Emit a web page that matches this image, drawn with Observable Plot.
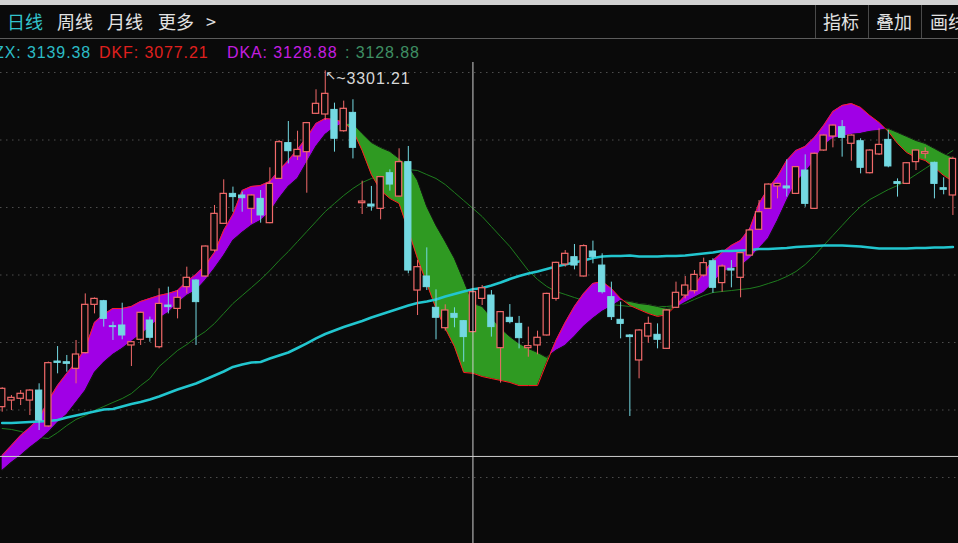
<!DOCTYPE html>
<html>
<head>
<meta charset="utf-8">
<script src="https://cdn.jsdelivr.net/npm/d3@7"></script>
<script src="https://cdn.jsdelivr.net/npm/@observablehq/plot@0.6"></script>
<style>
  html, body { margin: 0; padding: 0; background: #0a0a0a; overflow: hidden; }
  #head { position: relative; width: 958px; height: 62px; background: #0a0a0a; overflow: hidden; }
  #head .t { position: absolute; white-space: nowrap; }
  .cjk { font-family: "Noto Sans CJK SC", sans-serif; font-size: 18px; line-height: 18px; color: #e2e2e2; top: 12px; }
  .leg { font-family: "Liberation Sans", Arial, sans-serif; font-size: 16px; line-height: 16px; letter-spacing: 0.9px; top: 45px; }
  #chart svg { display: block; }
</style>
</head>
<body>
<div id="head">
  <div style="position:absolute;left:0;top:0;width:958px;height:5px;background:#d2d2d2"></div>
  <div style="position:absolute;left:0;top:38px;width:958px;height:1px;background:#5c5c5c"></div>
  <div style="position:absolute;left:815px;top:5px;width:1px;height:33px;background:#4a4a4a"></div>
  <div style="position:absolute;left:868px;top:5px;width:1px;height:33px;background:#4a4a4a"></div>
  <div style="position:absolute;left:921px;top:5px;width:1px;height:33px;background:#4a4a4a"></div>
  <span class="t cjk" style="left:7px;color:#33c3cc">日线</span>
  <span class="t cjk" style="left:57px">周线</span>
  <span class="t cjk" style="left:107px">月线</span>
  <span class="t cjk" style="left:158px">更多</span>
  <span class="t cjk" style="left:206px">&gt;</span>
  <span class="t cjk" style="left:823px">指标</span>
  <span class="t cjk" style="left:876px">叠加</span>
  <span class="t cjk" style="left:930px">画线</span>
  <span class="t leg" id="lzx" style="left:-6px;color:#2cbcc6"></span>
  <span class="t leg" id="ldkf" style="left:99px;color:#e0201e"></span>
  <span class="t leg" id="ldka" style="left:227px;color:#c41ee0"></span>
  <span class="t leg" id="lval" style="left:345px;color:#3f8f63"></span>
</div>
<div id="chart"></div>
<script>
// ---- data ----
const open = [3052.1,3057.0,3058.3,3057.0,3064.4,3037.8,3085.9,3085.4,3080.5,3092.1,
3127.9,3130.6,3112.1,3112.6,3097.8,3102.0,3116.3,3096.5,3127.4,3124.9,
3141.0,3145.9,3148.9,3168.1,3187.9,3210.1,3208.9,3199.0,3206.4,3188.4,
3221.2,3247.7,3237.8,3241.0,3269.4,3268.9,3272.3,3256.5,3270.1,3203.2,
3202.2,3199.0,3225.4,3208.1,3233.6,3138.5,3148.9,3125.7,3110.6,3121.2,
3115.8,3107.7,3132.3,3134.8,3095.8,3118.3,3113.8,3095.8,3097.8,3105.2,
3132.3,3157.8,3163.2,3148.9,3167.4,3157.0,3133.6,3116.8,3105.2,3086.7,
3104.4,3105.7,3095.3,3125.7,3134.8,3138.0,3149.6,3160.2,3144.0,3154.6,
3147.9,3164.4,3183.5,3199.0,3215.6,3215.6,3210.1,3227.4,3199.0,3242.2,
3252.6,3259.5,3247.2,3249.1,3225.4,3239.3,3250.1,3218.8,3217.5,3233.6,
3239.8,3233.1,3214.3,3208.9];
const high = [3066.5,3060.7,3064.4,3065.0,3069.4,3085.5,3097.0,3090.4,3101.5,3136.0,
3133.0,3131.2,3115.1,3129.1,3100.8,3122.5,3118.8,3139.8,3141.0,3138.5,
3155.8,3146.5,3171.5,3201.5,3220.5,3215.1,3211.4,3209.5,3212.6,3229.4,
3249.6,3263.7,3256.5,3263.0,3287.2,3301.21,3277.3,3278.8,3279.8,3219.5,
3215.6,3223.0,3227.9,3243.5,3245.2,3160.7,3170.1,3139.0,3127.9,3125.7,
3116.3,3137.8,3142.2,3138.5,3123.0,3128.1,3119.3,3111.4,3108.4,3136.5,
3159.5,3168.1,3172.6,3172.3,3175.1,3165.7,3144.7,3129.9,3105.9,3109.5,
3118.8,3113.8,3124.2,3144.7,3148.9,3153.3,3162.5,3162.0,3157.5,3160.7,
3166.7,3184.2,3205.2,3217.5,3218.0,3235.3,3230.4,3239.0,3240.3,3253.8,
3261.2,3264.4,3253.8,3250.9,3242.7,3258.3,3257.0,3221.2,3233.3,3242.7,
3244.2,3233.6,3222.0,3237.3];
const low = [3048.4,3049.6,3053.3,3045.9,3034.8,3037.0,3076.8,3078.0,3069.4,3091.5,
3121.2,3111.4,3101.5,3102.0,3082.2,3097.8,3100.2,3095.3,3121.2,3117.5,
3136.0,3097.8,3148.3,3166.9,3187.5,3196.5,3196.5,3187.9,3188.4,3188.0,
3220.8,3232.3,3234.8,3210.6,3269.0,3264.4,3241.0,3255.8,3236.0,3194.8,
3197.3,3190.9,3212.1,3207.7,3150.9,3120.0,3138.5,3102.0,3108.4,3110.9,
3085.4,3107.2,3127.4,3104.0,3069.9,3113.8,3095.3,3089.1,3090.9,3104.8,
3130.6,3155.8,3153.8,3148.5,3158.3,3136.0,3116.3,3102.7,3045.2,3073.1,
3099.5,3095.3,3094.8,3125.2,3132.3,3136.0,3148.4,3136.5,3137.3,3140.5,
3133.1,3164.0,3183.0,3198.5,3206.4,3207.7,3209.6,3200.2,3198.5,3241.7,
3244.2,3237.3,3234.3,3224.9,3224.9,3238.5,3229.4,3207.7,3217.0,3227.4,
3236.0,3206.4,3209.4,3194.1];
const close = [3065.7,3059.0,3062.0,3064.4,3042.2,3084.7,3084.9,3084.2,3091.1,3127.9,
3132.3,3117.5,3111.4,3105.2,3100.2,3122.0,3103.5,3128.6,3126.2,3133.1,
3147.9,3129.9,3171.1,3195.3,3210.1,3207.7,3206.9,3208.9,3194.1,3217.5,
3248.4,3241.7,3242.7,3262.5,3276.8,3284.2,3250.9,3273.1,3244.2,3204.4,
3200.7,3222.5,3217.0,3233.6,3153.3,3155.8,3141.0,3118.3,3123.7,3118.3,
3104.0,3137.3,3140.2,3111.4,3122.5,3115.1,3103.2,3097.3,3103.5,3136.0,
3159.0,3165.7,3157.0,3171.4,3163.2,3137.3,3118.8,3113.8,3104.0,3108.9,
3113.8,3102.0,3123.7,3136.8,3142.2,3150.1,3158.8,3140.5,3156.3,3153.3,
3166.2,3183.0,3196.5,3217.0,3217.5,3214.1,3229.9,3202.7,3239.8,3253.3,
3260.7,3251.6,3253.3,3229.4,3242.2,3246.4,3230.4,3217.5,3232.8,3242.2,
3241.0,3217.5,3213.1,3236.0];
// ZX (thick cyan line)
const zx = [3040.4,3040.4,3040.7,3041.1,3041.5,3041.9,3042.6,3044.4,3045.9,3047.4,
3048.9,3050.4,3050.7,3052.6,3054.5,3055.9,3057.8,3060.0,3062.6,3065.2,
3067.4,3069.6,3072.6,3075.6,3078.5,3081.9,3083.7,3085.2,3085.6,3088.1,
3090.4,3092.6,3095.9,3099.3,3103.0,3106.3,3108.9,3111.5,3113.7,3115.9,
3118.5,3120.7,3123.0,3125.2,3127.4,3129.3,3130.4,3131.9,3134.1,3135.9,
3137.8,3139.38,3140.4,3142.2,3144.4,3147.0,3149.3,3151.1,3152.6,3154.4,
3156.3,3157.8,3159.3,3160.7,3162.6,3163.7,3164.1,3164.1,3164.4,3163.7,
3163.7,3163.7,3164.1,3164.1,3164.4,3165.2,3165.9,3166.7,3167.8,3167.8,
3168.1,3168.5,3169.3,3169.3,3169.6,3170.0,3170.7,3171.1,3171.5,3171.9,
3171.9,3171.9,3171.5,3171.1,3170.4,3169.6,3169.6,3169.6,3169.6,3170.0,
3170.0,3170.4,3170.4,3170.7];
// thin green average
const ma = [3036.3,3035.6,3034.1,3031.9,3029.6,3028.9,3033.3,3038.5,3043.0,3045.9,
3049.6,3052.6,3055.6,3058.5,3062.2,3068.1,3073.3,3082.2,3088.1,3094.1,
3098.5,3103.7,3108.1,3114.1,3121.5,3128.9,3134.8,3140.7,3146.7,3153.3,
3160.7,3167.4,3174.8,3182.2,3189.6,3197.0,3203.0,3208.9,3214.1,3218.5,
3221.5,3223.7,3225.9,3227.4,3228.1,3227.4,3224.4,3221.5,3217.0,3211.1,
3205.2,3199.3,3193.3,3185.9,3178.5,3171.1,3162.2,3153.3,3146.7,3141.5,
3137.8,3135.6,3133.3,3131.1,3129.6,3128.9,3128.1,3127.4,3126.7,3126.7,
3126.7,3126.7,3126.7,3127.4,3128.9,3131.9,3134.8,3137.0,3137.8,3138.5,
3139.3,3140.0,3141.5,3143.7,3145.9,3148.9,3152.6,3157.8,3164.4,3171.9,
3179.3,3186.7,3194.1,3200.7,3205.9,3209.6,3213.3,3216.3,3220.0,3224.4,
3228.9,3233.3,3237.8,3242.2];
const dkf = [3016.3,3023.7,3031.1,3037.0,3043.7,3057.0,3068.1,3077.1,3085.2,3095.6,
3114.8,3120.7,3125.2,3125.2,3126.7,3130.4,3132.6,3134.8,3136.3,3138.5,
3145.2,3150.4,3157.0,3166.7,3183.0,3194.8,3212.6,3215.6,3216.3,3219.3,
3227.4,3234.8,3243.0,3251.9,3262.2,3265.9,3265.2,3263.0,3257.0,3242.2,
3224.4,3212.6,3206.7,3203.0,3183.0,3162.2,3143.7,3125.2,3110.4,3097.0,
3077.8,3077.21,3074.8,3073.3,3071.9,3070.4,3068.1,3068.1,3068.1,3085.2,
3101.5,3114.8,3126.7,3136.3,3143.7,3145.2,3140.0,3132.6,3127.4,3124.4,
3121.5,3119.3,3120.7,3127.4,3134.8,3142.2,3151.9,3160.7,3166.7,3171.9,
3175.6,3184.4,3203.0,3214.1,3223.0,3234.8,3242.2,3245.2,3251.9,3260.7,
3271.1,3275.6,3277.0,3274.1,3268.1,3263.0,3256.3,3247.4,3240.7,3237.0,
3234.8,3229.6,3223.7,3219.3];
const dka = [3005.2,3011.1,3016.3,3022.2,3027.4,3033.3,3040.7,3046.7,3055.6,3064.4,
3077.8,3085.2,3091.1,3095.6,3100.7,3105.9,3111.1,3117.8,3122.2,3128.9,
3134.8,3138.5,3145.9,3154.8,3164.4,3175.6,3181.5,3186.7,3190.4,3196.3,
3206.7,3215.6,3221.5,3233.3,3245.2,3254.1,3259.3,3262.2,3262.2,3254.8,
3248.1,3244.4,3241.5,3236.3,3231.1,3220.0,3200.7,3186.7,3174.8,3162.2,
3145.9,3128.88,3126.7,3118.5,3110.4,3104.4,3099.3,3095.6,3092.6,3088.9,
3094.1,3097.8,3104.4,3111.9,3117.8,3123.0,3126.7,3131.1,3130.4,3128.9,
3128.1,3126.7,3125.2,3125.9,3129.6,3133.3,3137.0,3143.7,3151.9,3154.8,
3156.3,3162.2,3169.6,3177.0,3190.4,3205.2,3218.5,3225.9,3234.8,3245.9,
3251.1,3252.6,3254.1,3254.8,3256.3,3257.0,3258.5,3255.6,3252.6,3249.6,
3247.4,3243.7,3240.0,3237.0];
const gridPrices = [3000, 3050, 3100, 3150, 3200, 3250, 3300];
const crossX = [51];          // cursor bar
const crossY = [3015.6];      // cursor price level
const peakIndex = [35];       // bar with the highest high
const legendZX = "ZX: 3139.38", legendDKF = "DKF: 3077.21", legendDKA = "DKA: 3128.88", legendVal = ": 3128.88";

// ---- legend text ----
document.getElementById("lzx").textContent = legendZX;
document.getElementById("ldkf").textContent = legendDKF;
document.getElementById("ldka").textContent = legendDKA;
document.getElementById("lval").textContent = legendVal;

// ---- derived tables ----
const idx = d3.range(open.length);
const ups = idx.filter(i => close[i] >= open[i]);
const downs = idx.filter(i => close[i] < open[i]);
const rows = idx.map(i => ({i, dkf: dkf[i], dka: dka[i]}));
const band = [];
rows.forEach((r, k) => {
  if (k > 0) {
    const p = rows[k - 1];
    const d0 = p.dkf - p.dka, d1 = r.dkf - r.dka;
    if (d0 * d1 < 0) {
      const t = d0 / (d0 - d1);
      const v = p.dka + t * (r.dka - p.dka);
      band.push({i: p.i + t, dkf: v, dka: v});
    }
  }
  band.push(r);
});

const RED = "#f26a6a", CYAN = "#74d9e2", BG = "#0a0a0a";
const hw = 0.34;

const chart = Plot.plot({
  width: 958,
  height: 481,
  margin: 0,
  x: {type: "linear", domain: [-0.184, 103.607], axis: null},
  y: {domain: [2951.11, 3307.41], axis: null},
  style: {background: BG, overflow: "visible", letterSpacing: "0.9px"},
  marks: [
    Plot.ruleY(gridPrices, {stroke: "#4d4d4d", strokeDasharray: "1.5,4.5", strokeWidth: 1}),
    Plot.lineY(idx, {x: i => i, y: i => ma[i], stroke: "#1e7d1e", strokeWidth: 1}),
    Plot.areaY(band, {x: "i", y1: "dka", y2: d => Math.max(d.dka, d.dkf), fill: "#a000e6", curve: "linear"}),
    Plot.areaY(band, {x: "i", y1: "dkf", y2: d => Math.max(d.dka, d.dkf), fill: "#2f9a22", curve: "linear"}),
    Plot.line(band, {x: "i", y: "dka", stroke: "#141414", strokeWidth: 1}),
    Plot.line(band, {x: "i", y: "dkf", stroke: "#ff2020", strokeWidth: 1}),
    Plot.lineY(idx, {x: i => i, y: i => zx[i], stroke: "#22c6cf", strokeWidth: 2.6}),
    Plot.ruleX(ups, {x: i => i, y1: i => low[i], y2: i => high[i], stroke: RED, strokeWidth: 1}),
    Plot.ruleX(downs, {x: i => i, y1: i => low[i], y2: i => high[i], stroke: CYAN, strokeWidth: 1}),
    Plot.rect(ups, {x1: i => i - hw, x2: i => i + hw, y1: i => open[i], y2: i => close[i], fill: BG, stroke: RED, strokeWidth: 1.2}),
    Plot.rect(downs, {x1: i => i - hw, x2: i => i + hw, y1: i => open[i], y2: i => close[i], fill: CYAN, stroke: CYAN, strokeWidth: 1}),
    Plot.ruleX(crossX, {stroke: "#cfcfcf", strokeWidth: 1}),
    Plot.ruleY(crossY, {stroke: "#cfcfcf", strokeWidth: 1}),
    Plot.text(peakIndex, {x: i => i, y: i => high[i], text: () => "↖", textAnchor: "start", dx: 0, dy: 5, fill: "#d8d8d8", fontSize: 13, fontFamily: "DejaVu Sans"}),
    Plot.text(peakIndex, {x: i => i, y: i => high[i], text: i => "~" + high[i].toFixed(2), textAnchor: "start", dx: 11, dy: 8, fill: "#d8d8d8", fontSize: 16, fontFamily: "Liberation Sans"})
  ]
});
document.getElementById("chart").appendChild(chart);
</script>
</body>
</html>
